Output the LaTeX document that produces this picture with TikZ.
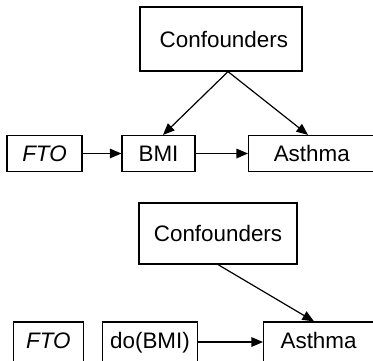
\documentclass[tikz,border=0pt]{standalone}
\usepackage{fontspec}
\setmainfont{Liberation Sans}
\usepackage{tikz}
\usetikzlibrary{arrows.meta}

\tikzset{
  box/.style={draw, line width=0.6pt, inner sep=0pt, font=\fontsize{11.2}{13}\selectfont, text height=8pt, text depth=0pt},
  link/.style={line width=0.6pt, -{Triangle[length=5.8pt,width=4.8pt]}}
}

\begin{document}
\begin{tikzpicture}[x=0.5pt,y=-0.5pt]
\useasboundingbox (0,0) rectangle (373,360);
\clip (0,0) rectangle (373,360);
% upper graph
\node [box, minimum height=32pt, text width=67pt, align=right, inner xsep=7pt] (conf1) at (221,39) {Confounders};
\node [box, minimum width=37.5pt, minimum height=18pt] (fto1) at (44.5,153.5) {\itshape FTO};
\node [box, minimum width=36.5pt, minimum height=18pt] (bmi1) at (158.5,153.5) {BMI};
\node [box, anchor=west, minimum height=18pt, text width=70pt, align=left, inner xsep=12.6pt] (asthma1) at (248,153.5) {Asthma};
\draw [link] (fto1) -- (bmi1);
\draw [link] (bmi1) -- (asthma1);
\draw [link] ([xshift=3.5pt]conf1.south) -- ([xshift=2.25pt]bmi1.north);
\draw [link] ([xshift=3.5pt]conf1.south) -- ([xshift=30pt]asthma1.north west);
% lower graph, after do(BMI)
\node [box, minimum width=79pt, minimum height=30.5pt] (conf2) at (218,233.5) {Confounders};
\node [box, minimum width=35pt, minimum height=20pt, text depth=2pt] (fto2) at (48.3,342) {\itshape FTO};
\node [box, minimum width=47.3pt, minimum height=20pt, text depth=2pt] (dobmi) at (150,342) {do(BMI)};
\node [box, anchor=west, minimum height=20pt, text depth=2pt, text width=70pt, align=left, inner xsep=8.5pt] (asthma2) at (263,342) {Asthma};
\draw [link] (dobmi) -- (asthma2);
\draw [link] (conf2.south) -- ([xshift=25.5pt]asthma2.north west);
\end{tikzpicture}
\end{document}
